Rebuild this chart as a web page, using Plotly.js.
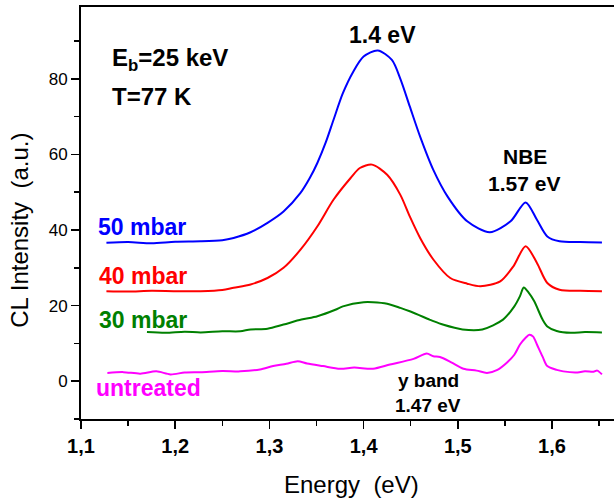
<!DOCTYPE html>
<html>
<head>
<meta charset="utf-8">
<script src="https://cdn.plot.ly/plotly-3.0.1.min.js"></script>
<style>html,body{margin:0;padding:0;background:#fff;}#chart{width:614px;height:500px;}</style>
</head>
<body>
<div id="chart"></div>
<script>
// Energy (eV) and CL intensity (a.u.)
var x50 = [1.127,1.15,1.175,1.2,1.227,1.25,1.262,1.28,1.298,1.315,1.333,1.343,1.351,1.36,1.368,1.378,1.389,1.40,1.415,1.43,1.439,1.449,1.46,1.474,1.489,1.51,1.534,1.556,1.572,1.584,1.595,1.608,1.63,1.653];
var y50 = [36.6,36.8,36.5,36.9,37.0,37.3,37.9,39.4,41.9,44.9,49.8,53.8,57.8,63.3,69.1,76.2,81.9,85.9,87.5,85.0,80.0,72.7,64.7,55.9,48.9,42.3,39.4,42.3,47.3,42.7,38.3,37.0,36.8,36.7];

var x40 = [1.127,1.15,1.175,1.2,1.227,1.25,1.262,1.28,1.298,1.315,1.333,1.351,1.368,1.386,1.396,1.409,1.425,1.439,1.449,1.46,1.474,1.492,1.51,1.524,1.545,1.559,1.572,1.584,1.595,1.608,1.63,1.653];
var y40 = [23.8,23.7,23.9,23.8,23.8,24.1,24.7,25.6,27.3,30.0,34.8,41.0,48.0,53.7,56.4,57.3,54.6,49.3,43.6,37.9,32.2,27.3,25.8,25.1,26.4,30.4,35.7,31.3,26.0,24.2,23.9,23.8];

var x30 = [1.170,1.19,1.21,1.227,1.25,1.269,1.28,1.298,1.315,1.334,1.351,1.37,1.378,1.40,1.41,1.425,1.439,1.449,1.47,1.474,1.484,1.505,1.526,1.548,1.56,1.566,1.570,1.575,1.581,1.590,1.595,1.605,1.62,1.635,1.653];
var y30 = [13.0,12.8,13.1,12.9,13.2,13.2,13.7,13.9,15.0,16.3,17.2,18.9,19.8,20.9,20.9,20.5,19.4,18.5,16.3,15.9,15.0,13.7,13.7,16.3,19.8,22.5,24.8,23.5,21.2,16.3,14.5,13.3,12.8,13.0,12.9];

var xUn = [1.128,1.145,1.163,1.18,1.195,1.21,1.227,1.25,1.269,1.29,1.304,1.318,1.330,1.340,1.357,1.375,1.39,1.41,1.428,1.453,1.467,1.474,1.481,1.493,1.506,1.52,1.531,1.542,1.552,1.56,1.566,1.572,1.576,1.580,1.584,1.59,1.595,1.605,1.612,1.625,1.635,1.644,1.648,1.653];
var yUn = [2.2,2.4,2.0,2.6,1.8,2.3,2.4,2.7,2.6,3.1,4.0,4.6,5.3,4.7,4.0,3.3,3.6,3.3,4.4,5.9,7.3,6.6,6.4,5.0,3.3,2.8,2.2,3.0,4.9,7.0,9.7,11.5,12.3,11.8,9.7,6.5,4.0,3.0,2.6,2.3,2.6,2.5,2.8,1.8];

var xTickVals = [1.1,1.2,1.3,1.4,1.5,1.6];
var xTickText = ['1,1','1,2','1,3','1,4','1,5','1,6'];
var yTickVals = [0,20,40,60,80];

var FONT = 'Arial, "Liberation Sans", sans-serif';

function tr(x, y, color, name) {
  return {x: x, y: y, name: name, type: 'scatter', mode: 'lines',
          line: {color: color, width: 2, shape: 'spline', smoothing: 0.8}, hoverinfo: 'skip'};
}

var data = [
  tr(x50, y50, '#0000ff', '50 mbar'),
  tr(x40, y40, '#ff0000', '40 mbar'),
  tr(x30, y30, '#008000', '30 mbar'),
  tr(xUn, yUn, '#ff00ff', 'untreated')
];

function ann(text, x, y, size, color, xanchor) {
  return {text: text, x: x, y: y, xref: 'x', yref: 'y', showarrow: false,
          xanchor: xanchor || 'center', yanchor: 'middle',
          font: {family: FONT, size: size, color: color, weight: 'bold'}};
}

var layout = {
  width: 614, height: 500,
  margin: {l: 81, r: 0, t: 7, b: 81},
  paper_bgcolor: '#fff', plot_bgcolor: '#fff',
  showlegend: false,
  font: {family: FONT, color: '#000'},
  xaxis: {
    range: [1.1, 1.6658], tickvals: xTickVals, ticktext: xTickText,
    ticks: 'outside', ticklen: 8, tickwidth: 1.5, tickcolor: '#000',
    minor: {dtick: 0.05, tick0: 1.1, ticks: 'outside', ticklen: 5, tickwidth: 1.5, tickcolor: '#000'},
    showline: true, linewidth: 2, linecolor: '#000', mirror: true,
    showgrid: false, zeroline: false,
    tickfont: {family: FONT, size: 20, color: '#000', weight: 'bold'}
  },
  yaxis: {
    range: [-10, 99], tickvals: yTickVals,
    ticks: 'outside', ticklen: 8, tickwidth: 1.5, tickcolor: '#000',
    minor: {dtick: 10, tick0: 0, ticks: 'outside', ticklen: 5, tickwidth: 1.5, tickcolor: '#000'},
    showline: true, linewidth: 2, linecolor: '#000',
    showgrid: false, zeroline: false,
    tickfont: {family: FONT, size: 17, color: '#000'}
  },
  annotations: [
    {text: 'CL Intensity\u00a0\u00a0(a.u.)', xref: 'paper', yref: 'paper', x: -0.1144, y: 0.457,
     textangle: -90, showarrow: false, xanchor: 'center', yanchor: 'middle',
     font: {family: FONT, size: 24, color: '#000'}},
    {text: 'Energy\u00a0\u00a0(eV)', xref: 'paper', yref: 'paper', x: 0.507, y: -0.1588,
     showarrow: false, xanchor: 'center', yanchor: 'middle',
     font: {family: FONT, size: 24, color: '#000'}},
    ann('E<sub>b</sub>=25 keV', 1.1313, 85.0, 24, '#000', 'left'),
    ann('T=77 K', 1.1313, 75.4, 24, '#000', 'left'),
    ann('1.4 eV', 1.4197, 91.6, 23, '#000'),
    ann('NBE', 1.5713, 59.4, 21, '#000'),
    ann('1.57 eV', 1.5703, 52.2, 21, '#000'),
    ann('50 mbar', 1.1154, 40.9, 23, '#0000ff', 'left'),
    ann('40 mbar', 1.1175, 27.9, 23, '#ff0000', 'left'),
    ann('30 mbar', 1.1175, 16.3, 23, '#008000', 'left'),
    ann('untreated', 1.1143, -1.9, 23, '#ff00ff', 'left'),
    ann('y band', 1.4685, 0.1, 19, '#000'),
    ann('1.47 eV', 1.4685, -6.4, 19, '#000')
  ]
};

Plotly.newPlot('chart', data, layout, {displayModeBar: false, staticPlot: true});
</script>
</body>
</html>
